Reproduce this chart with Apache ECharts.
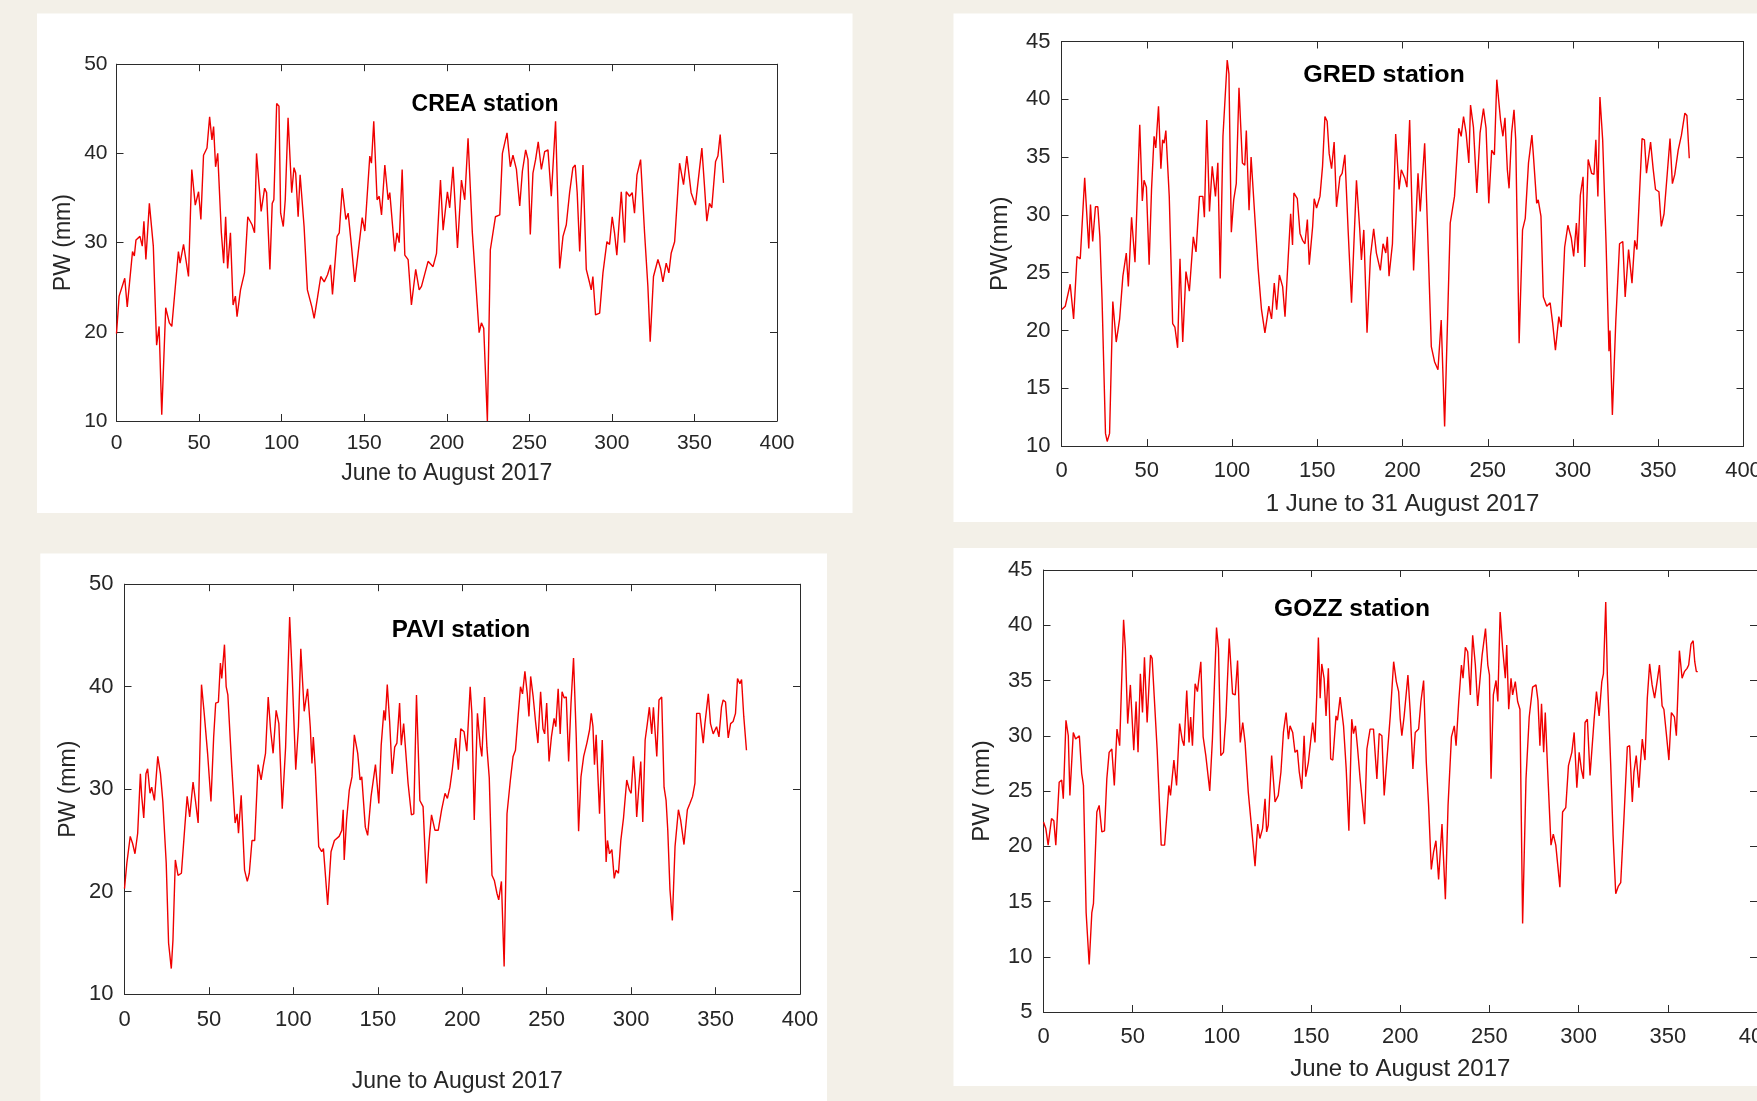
<!DOCTYPE html>
<html>
<head>
<meta charset="utf-8">
<script src="https://cdn.jsdelivr.net/npm/echarts@6/dist/echarts.min.js"></script>
<style>
html,body{margin:0;padding:0;background:#f3f0e8;overflow:hidden;}
#c{width:1757px;height:1101px;}
</style>
</head>
<body>
<div id="c"></div>
<script>
// ---- data: [day index, PW (mm)] ----
const creaPW = [[0,19.8],[1.6,24],[5,26],[6.5,22.8],[9.7,29],[10.8,28.5],[11.8,30.3],[14.2,30.7],[15.6,29.6],[16.6,32.4],[17.8,28.1],[19.9,34.4],[22.3,29.6],[24.3,18.5],[25.8,20.6],[27.4,10.7],[29.8,22.7],[32,21],[33.5,20.6],[37.5,29],[38.5,27.7],[40.6,29.8],[43.6,26.2],[45.6,38.2],[47.7,34.2],[49.7,35.7],[51.1,32.6],[52.7,39.8],[54.8,40.6],[56.4,44.1],[57.8,41.5],[58.8,43],[60,38.5],[61.3,40],[63.5,31.1],[64.9,27.7],[66.1,32.9],[67.3,27.1],[69,31.1],[70.6,23],[72,24],[73,21.7],[75.1,24.7],[77.5,26.6],[79.5,32.9],[82.1,32],[83.6,31.1],[84.8,40],[87.6,33.5],[89.7,36.1],[90.9,35.6],[92.9,27],[94.3,34.4],[95.3,34.8],[97,45.6],[98.4,45.3],[99.4,33.3],[101,31.8],[102.2,34.8],[103.9,44],[106.1,35.6],[107.5,38.4],[108.5,37.8],[110,32.9],[111.2,37.6],[113.6,31.8],[115.6,24.7],[118.3,22.8],[119.7,21.5],[121.7,23.8],[123.7,26.2],[125.8,25.6],[127.8,26.4],[129.6,27.5],[130.8,24.2],[133.6,30.7],[134.9,31.1],[136.7,36.1],[138.9,32.6],[140.3,33.3],[142.3,29.6],[144.3,25.6],[146.3,28.8],[148.8,32.8],[150.4,31.3],[153.4,39.7],[154.4,38.9],[155.8,43.6],[157.8,34.8],[159.1,35.2],[160.5,33.1],[162.5,38.7],[164.5,34.8],[165.5,35.6],[168.5,29],[169.9,31.1],[171.2,30],[173,38.2],[174.6,28.6],[176.6,28.1],[178.6,23],[181.2,27],[183.3,24.7],[184.7,25.1],[188.7,27.9],[191.7,27.3],[193.8,28.8],[196.2,37],[197.8,31.4],[200.4,35.7],[201.8,33.9],[203.8,38.5],[206.5,29.4],[208.9,37],[210.9,34.8],[212.9,41.7],[215.5,31.1],[218,24.3],[219.6,19.9],[221,21],[222.4,20.4],[224.6,10],[226.4,29.2],[229.5,32.9],[232.1,33.1],[233.7,40],[236.5,42.3],[238.5,38.5],[240.1,39.8],[242.2,38.2],[244.2,34.1],[245.8,38],[247.8,40.4],[249.2,39.3],[250.6,30.9],[252.2,37.8],[253.8,39.3],[255.4,41.3],[257.3,38.2],[259.3,40.2],[261.3,40.4],[263.3,35.2],[265.9,43.6],[268.4,27.1],[270.4,30.7],[272.4,32],[274.4,35.6],[276.4,38.4],[277.8,38.7],[279,35.6],[280.5,29],[282.5,38.7],[284.5,27],[286.5,25.5],[287.5,24.7],[288.5,26.2],[290.1,21.9],[292.6,22.1],[294.6,26.6],[297,30.1],[298.6,29.8],[300.2,32.9],[301.6,31.1],[303,28.6],[305.7,35.7],[307.7,30],[308.7,35.7],[310.7,35.2],[312.3,35.6],[313.7,33.3],[315.2,37.6],[317.4,39.3],[319.8,31.1],[321.8,25.1],[323.2,18.9],[325.2,26.2],[327.9,28.1],[329.5,27.1],[330.9,25.6],[332.9,27.7],[334.5,26.6],[335.9,28.8],[338,30.1],[341,38.9],[343.4,36.5],[345.4,39.7],[348,35.6],[350.6,34.2],[354.5,40.6],[356.1,36.3],[357.5,32.4],[359.1,34.4],[360.5,33.9],[362.8,39.1],[364.2,39.7],[365.6,42.1],[367.6,36.7]];

const gredPW = [[0,21.8],[2.2,22.1],[5.1,24],[7.1,21],[9.1,26.4],[11,26.2],[13.6,33.2],[16,27.1],[17,30.9],[18.3,27.7],[19.9,30.7],[21.3,30.7],[22.5,28.1],[23.8,22.6],[25.8,11.1],[26.8,10.4],[28.2,11.1],[30.1,22.5],[32.1,19],[34.1,21],[36,24.7],[38,26.7],[39.2,23.8],[41.1,29.8],[43.1,25.9],[45.9,37.8],[47.4,31.2],[48.4,33],[49.8,32.4],[51.4,25.7],[52.8,32.2],[54.3,36.8],[55.3,35.8],[56.9,39.4],[58.3,34],[59.3,36.5],[60.2,36.2],[61.2,37.3],[63.2,31.6],[65.2,20.6],[66.5,20.3],[68.1,18.5],[69.5,26.2],[71.1,19],[73,25.1],[75,23.4],[77.3,28.1],[78.9,26.8],[80.9,31.6],[82.9,31.6],[83.8,29.8],[85.2,38.2],[86.8,30.3],[88.4,34.2],[90.3,31.6],[91.7,34.5],[93.1,24.5],[94.7,36.8],[97.2,43.4],[98.2,42.2],[99.6,28.5],[101,31.3],[102.5,32.7],[104.1,41],[106.1,34.5],[107.5,34.3],[108.4,37.3],[110,30.4],[111.2,35],[113.4,29.8],[115.3,25.4],[117.3,21.8],[119.3,19.8],[121.6,22.1],[123.2,21],[124.8,24.1],[126.2,21.8],[127.8,24.8],[129.7,23.8],[131.1,21.2],[133,26.4],[134.4,30.1],[135.5,27.4],[136.3,31.9],[138.3,31.4],[139.9,28.4],[141.4,27.8],[142.8,27.5],[144.2,29.6],[145.3,25.7],[147.3,29],[148.2,31.4],[149.6,30.6],[151.6,31.6],[153.1,34.2],[154.5,38.5],[155.8,38.1],[157,35.3],[158.4,34],[159.9,36.3],[161.3,30.7],[163.3,33.3],[164.6,33.6],[166.2,35.2],[168.1,28.7],[170.1,22.4],[173,33],[174.9,28.8],[175.9,26.1],[177.3,28.7],[179.2,19.8],[181.2,26.4],[183.1,28.8],[184.7,26.7],[187,25.2],[188.6,27.5],[190.2,26.7],[191.1,28.1],[192.1,24.7],[194.1,27.5],[196,37],[198,32.2],[199.3,33.9],[201.3,33.2],[202.6,32.4],[204.2,38.2],[206.5,25.2],[209.1,33.6],[210.4,30.3],[213,36.2],[214.9,27.8],[216.9,18.6],[218.8,17.3],[220.8,16.6],[222.7,20.9],[224.7,11.7],[228,29.3],[230.5,31.6],[233,37.5],[234.4,36.8],[235.8,38.5],[237.3,37.1],[238.9,34.5],[239.9,39.5],[241.6,37.6],[243.6,31.9],[245.5,37.1],[247.5,39.2],[249,37.5],[250.6,31],[252.3,35.6],[253.9,35.2],[255.3,41.7],[257.5,38.2],[258.9,36.8],[260.1,38.4],[261.5,33.9],[262.5,32.3],[264,37.1],[265.4,39.1],[266.4,36.5],[268.4,18.9],[270.4,28.7],[272,29.7],[273.9,34.5],[275.9,36.9],[276.7,35.3],[278.7,31],[279.6,31.3],[281.2,29.9],[282.6,22.9],[284.6,22.1],[286.6,22.4],[288.1,20.6],[289.7,18.3],[291.7,21.2],[293.1,20.3],[295.1,27.2],[297,29.1],[299,28],[300.4,26.4],[302,29.3],[302.9,26.7],[304.3,31.7],[305.9,33.3],[306.9,25.5],[308.9,34.8],[310.9,33.6],[312.3,33.5],[313.4,36.5],[314.6,31.6],[315.8,40.2],[317.4,36.5],[319.4,27.5],[321.1,18.2],[321.7,20],[323.1,12.7],[325.1,20.8],[327.3,27.5],[329.2,27.7],[330.6,22.9],[332.6,27],[334.6,24.1],[336.2,27.8],[337.5,27],[340.5,36.6],[341.9,36.5],[343.1,33.6],[345.5,36.3],[347,34],[348.4,32.2],[350.4,32],[351.8,29],[353.4,30.1],[355.3,33.6],[356.9,36.6],[358.3,32.7],[359.7,33.5],[361.7,35.6],[363.6,36.9],[365.6,38.8],[366.8,38.6],[368.2,34.9]];

const paviPW = [[0,20.3],[1.4,22.8],[3.4,25.4],[4.8,24.7],[6.2,23.7],[7.8,25.7],[9.4,31.5],[10.2,29.3],[11.4,27.2],[12.7,31.5],[13.7,32],[15.1,29.6],[16.1,30.2],[17.7,28.9],[19.7,33.2],[21.3,31.5],[22.7,28.8],[24.7,22.8],[26.1,15],[27.7,12.5],[28.7,15.3],[30.1,23.1],[31.7,21.6],[33.7,21.8],[35.7,26.3],[37.1,29.3],[38.6,27.3],[40.6,30.7],[42,28.9],[43.6,26.7],[45.6,40.2],[47.2,37.4],[49.2,33.5],[51.2,28.8],[52.8,35.1],[54,38.4],[55.6,38.5],[56.8,42.3],[57.6,40.8],[59.2,44.1],[60.2,40],[61.2,39.2],[63.5,32.2],[65.5,26.7],[66.7,27.6],[67.5,25.7],[69.1,29.4],[71.1,22.1],[72.7,21],[73.9,21.8],[75.5,25],[77.1,25],[79.1,32.4],[80.9,30.9],[82.1,32.2],[83.5,33.5],[85.1,39],[86.5,35.8],[88,33.5],[89.8,37.7],[91.4,36.4],[93.4,28.1],[95.4,34.1],[97.8,46.8],[99.4,40.7],[101.4,31.9],[103,36.1],[104.4,43.7],[106.4,37.6],[108.4,39.8],[110,36.1],[111,32.5],[111.8,35.1],[113,32],[115,24.4],[116.8,23.9],[117.8,24.2],[120.3,18.7],[122.3,23.9],[124.3,25],[127.1,25.4],[128.7,26],[129.5,28],[130.1,23.1],[131.5,27],[133.1,29.9],[134.7,31.2],[136.1,35.3],[138.1,33.5],[139.5,30.9],[140.5,31.2],[142.6,26.3],[144,25.5],[146,29.3],[148.6,32.4],[150.6,28.6],[152,34.3],[153.6,37.7],[154.4,36.7],[155.6,40.2],[157,36.6],[158.5,31.5],[160,34.1],[161.3,34.5],[162.9,38.4],[163.9,34.3],[165.3,36.4],[167.9,30.6],[169.9,27.5],[171.3,27.6],[172.9,39.2],[174.9,28.9],[176.8,28.3],[178.8,20.8],[180.4,25],[181.8,27.5],[183.8,26],[185.8,26],[187.8,28],[189.8,29.6],[191.2,29.1],[192.7,30.2],[194.1,31.9],[196.1,35],[197.7,31.9],[199.1,35.9],[201.1,35.6],[202.7,33.7],[204.7,40],[205.7,37.4],[207.1,27],[209,37.4],[210.6,34.3],[211.6,33.2],[213.2,39],[214.6,34.1],[216,31.1],[217.6,21.6],[219,21.1],[220.6,19.8],[221.6,19.2],[223.2,21],[224.8,12.7],[226.5,27.6],[228.5,30.9],[230.1,33.2],[231.5,33.8],[233.1,37.2],[234.5,40],[235.7,39.3],[237.1,41.5],[238.5,39.3],[239.5,37.1],[240.5,41],[242,39],[243.4,36.6],[244.8,34.5],[246.4,39.5],[247.8,35.9],[248.8,35.4],[250,38.4],[251.4,32.7],[252.8,35.1],[254.4,36.9],[255.4,36.1],[256.8,39.8],[258,35.4],[259.1,39.5],[260.4,38.9],[261.6,39],[263,32.7],[264.4,38.4],[265.9,42.8],[267.5,35.1],[268.9,25.9],[270.3,31.2],[271.9,33.2],[273.8,34.5],[275.4,35.8],[276.4,37.4],[277.4,36.1],[278.3,32.4],[279.3,35.3],[280.3,31.4],[281.3,27.6],[282.1,27.6],[282.9,34.8],[284.1,28.9],[285.2,22.9],[286,25],[287.2,23.7],[288.6,24.1],[290,21.3],[291.1,22.1],[292.5,21.8],[293.9,25],[295.5,27.2],[297.4,30.9],[299,29.9],[300,29.6],[301.4,33.2],[302.4,30.9],[303.3,27.3],[304.3,29.6],[305.7,32.7],[306.9,26.8],[308.3,34.8],[309.6,36.4],[310.8,38],[312.2,35.4],[313.2,38],[314.2,38],[315.2,33.2],[316.5,38.7],[318.1,39],[319.5,30.2],[320.7,28.9],[321.7,26],[323,20.2],[324.4,17.2],[326,24.4],[328,28],[329.3,27],[331.3,24.6],[333.3,28],[334.8,28.6],[336.4,29.3],[337.8,30.6],[338.8,37.4],[340.7,37.4],[342.7,34.5],[343.7,36.4],[345.7,39.3],[347,36.4],[348.6,35.4],[350.6,36.1],[352,35.1],[353.5,38],[354.5,38.7],[355.9,38.5],[357.5,35],[358.9,36.4],[360.4,36.6],[361.8,37.4],[363,40.8],[364.4,40.3],[365.4,40.7],[366.7,37.1],[368.3,33.8]];

const gozzPW = [[0,22.2],[1.3,21.6],[2.6,20.1],[4.5,22.5],[5.8,22.3],[6.9,20.1],[8.8,25.8],[10.2,26],[11.1,24.3],[12.6,31.4],[13.9,30],[14.8,24.6],[16.7,30.3],[18,29.7],[20.1,30],[21.4,26.6],[22.4,25.5],[23.9,14],[25.6,9.3],[27.1,14],[28,14.8],[29.9,23.1],[31.2,23.7],[32.7,21.3],[34.2,21.4],[35.5,26.1],[36.8,28.5],[38.3,28.8],[39.7,25.5],[41.2,30.6],[42.7,29.1],[44.9,40.5],[45.9,37.9],[47.2,31.1],[48.7,34.6],[50.6,28.7],[51.9,33.1],[53,28.5],[54.3,35.6],[55.5,32.1],[56.6,37.1],[58.1,31.2],[60,37.3],[60.9,37],[63.7,28.8],[66,20.1],[67.9,20.1],[69.4,23.4],[70.3,25.5],[71.2,24.6],[73.1,27.8],[74.6,25.5],[76.3,31.1],[77.8,29.6],[78.8,29.1],[80.3,34.1],[81.6,29.4],[82.5,31.7],[83.5,29.1],[85,34.7],[86.3,34],[88.2,36.7],[89.5,29.9],[91,28.2],[93.2,25],[94.7,29.7],[97,39.8],[98.1,37.9],[99.4,28.2],[100.9,28.5],[102.3,31.8],[104.1,38.8],[106,33.8],[107.5,33.7],[108.8,36.8],[110.3,29.4],[111.7,31.2],[113,29.4],[114.8,24.9],[116.7,21.6],[118.6,18.2],[120.1,22],[121.3,20.7],[122.8,21.6],[124.2,24.3],[125.1,21.3],[126,21.9],[127.9,28.2],[129.8,24],[131.6,24.6],[133.1,26.7],[134.5,30.3],[136,32.1],[137.3,29.7],[138.2,30.9],[139.7,30.3],[141,28.5],[142.3,28.7],[143.4,26.7],[144.8,25.2],[146.1,30],[147,26.3],[148.5,27.6],[150.9,31.2],[152.2,29.4],[153.2,33.7],[154.1,38.9],[155.1,33.4],[156,36.5],[157.3,35.2],[158.4,31.8],[159.7,36.1],[161,27.9],[162.2,27.8],[164,31.8],[164.8,31.4],[166.3,33.5],[168.2,30.9],[169.7,27],[171.2,21.4],[172.8,31.5],[173.8,30.2],[174.9,30.9],[176,29],[177.5,26.1],[180,22],[181.3,28.8],[183.1,30.6],[185,30.6],[186.9,26.1],[188.2,30.2],[189.7,30],[191,24.6],[192.5,27.8],[194.4,31.8],[196.3,36.7],[197.8,34.9],[199.1,34],[200,31.5],[200.9,30],[202.2,31.8],[203.2,31.7],[204.3,35.5],[205.6,32.1],[207.1,27],[208.4,30.3],[210.3,30.6],[211.6,33.1],[213.1,35],[214.6,27.6],[215.9,23.7],[217.4,17.9],[218.7,19.5],[220,20.5],[221.5,17],[223.4,22],[225.3,15.2],[226.8,23.7],[228.7,29.9],[230.3,30.9],[231.3,29.1],[232.8,33.1],[234.3,36.4],[235.2,35.2],[236.5,38],[237.8,37.6],[239.3,33.7],[240.6,39.1],[242.1,36.4],[243.4,32.7],[245.9,37.3],[247.8,39.7],[249.1,36.4],[250,35.5],[250.9,26.1],[252.2,33.7],[253.7,35],[254.7,33.1],[256,41.2],[257.4,37.9],[258.9,35.2],[259.7,38.2],[260.8,32.4],[262.1,35.2],[263,33.7],[264.5,34.9],[265.8,33.1],[267.1,32.4],[268.6,13],[270.5,26.1],[272.3,31.7],[274.2,34.4],[276.1,34.6],[277.2,33.2],[278.3,29.1],[279.2,32.9],[280.4,28.5],[281.3,32.1],[282.6,27],[284.5,20.1],[285.8,21.1],[287.2,20.1],[289.5,16.3],[291,23.1],[292.8,23.5],[294.3,27.3],[296.2,28.5],[297.5,30.3],[299,25.3],[300.3,28.5],[301.6,26.9],[302.7,26.1],[303.6,31.2],[304.9,31.5],[306.4,26.4],[307.4,26.4],[308.7,31.5],[310,34],[311.5,31.8],[313,34.9],[313.9,35.6],[315.2,42.1],[316.1,35.5],[318,27.3],[319.3,21],[320.8,15.7],[322.3,16.4],[323.6,16.7],[325.4,22.5],[327.3,29],[328.6,29.1],[330.1,24],[331,26.7],[332.3,28.2],[333.8,25.3],[334.7,27.6],[335.7,29.7],[337.2,27.8],[338.5,33.4],[339.8,36.5],[341.2,34.6],[342.6,33.4],[344,34.9],[345.3,36.4],[346.8,32.7],[347.8,32.4],[349.1,30.3],[350.6,27.8],[352,32.1],[353.7,31.7],[354.8,30],[356.5,37.7],[358,35.2],[359.3,35.8],[360.8,36.1],[361.7,36.4],[363,38.3],[364.2,38.6],[365.1,36.7],[366,35.8],[366.8,35.8]];

// axis ranges / tick steps
const xRange = [0, 400, 50];
const creaY = [10, 50, 10];
const gredY = [10, 45, 5];
const paviY = [10, 50, 10];
const gozzY = [5, 45, 5];

const titles = ['CREA station', 'GRED station', 'PAVI station', 'GOZZ station'];
const xNames = ['June to August 2017', '1 June to 31 August 2017', 'June to August 2017', 'June to August 2017'];
const yNames = ['PW (mm)', 'PW(mm)', 'PW (mm)', 'PW (mm)'];

// ---- layout ----
const FONT = '"Liberation Sans", Arial, Helvetica, sans-serif';
const AX = '#2b2b2b';
const panels = [
  {box:[37,13.5,815.5,499.5], grid:{left:116.5, top:64.2, width:660.5, height:356.8}, y:creaY, data:creaPW,
   tick:21, name:23, xGap:41, yGap:41, title:[485,104.5], tScale:1.0, xMargin:12, yMargin:9},
  {box:[953.5,13.5,803.5,508.5], grid:{left:1061.5, top:41.5, width:682, height:404.6}, y:gredY, data:gredPW,
   tick:22, name:24, xGap:46, yGap:49, title:[1384,76], tScale:1.09, xMargin:14, yMargin:11},
  {box:[40.3,553.5,786.7,547.5], grid:{left:124.5, top:584.2, width:675.5, height:410}, y:paviY, data:paviPW,
   tick:22, name:23, xGap:76, yGap:44, title:[461,631], tScale:1.05, xMargin:15, yMargin:11, xPad:[0,10,0,0]},
  {box:[953.5,548,803.5,538], grid:{left:1043.5, top:570, width:713.5, height:442}, y:gozzY, data:gozzPW,
   tick:22, name:24, xGap:45, yGap:49, title:[1352,609.5], tScale:1.07, xMargin:14, yMargin:11}
];

const grid = [], xAxis = [], yAxis = [], series = [], graphic = [];
panels.forEach((p, i) => {
  grid.push(Object.assign({containLabel:false, outerBoundsMode:'none', show:false}, p.grid));
  const line = {show:true, onZero:false, lineStyle:{color:AX, width:1}};
  const tick = {show:true, inside:true, length:7, lineStyle:{color:AX, width:1}};
  xAxis.push({type:'value', gridIndex:i, position:'bottom', min:xRange[0], max:xRange[1], interval:xRange[2],
    axisLine:line, axisTick:tick, splitLine:{show:false},
    axisLabel:{color:'#262626', fontFamily:FONT, fontSize:p.tick, margin:p.xMargin, hideOverlap:false},
    name:xNames[i], nameLocation:'middle', nameGap:p.xGap,
    nameTextStyle:{color:'#262626', fontFamily:FONT, fontSize:p.name, padding:p.xPad || 0}});
  xAxis.push({type:'value', gridIndex:i, position:'top', min:xRange[0], max:xRange[1], interval:xRange[2],
    axisLine:line, axisTick:tick, splitLine:{show:false}, axisLabel:{show:false}});
  yAxis.push({type:'value', gridIndex:i, position:'left', min:p.y[0], max:p.y[1], interval:p.y[2],
    axisLine:line, axisTick:tick, splitLine:{show:false},
    axisLabel:{color:'#262626', fontFamily:FONT, fontSize:p.tick, margin:p.yMargin, hideOverlap:false},
    name:yNames[i], nameLocation:'middle', nameGap:p.yGap, nameRotate:90,
    nameTextStyle:{color:'#262626', fontFamily:FONT, fontSize:p.name}});
  yAxis.push({type:'value', gridIndex:i, position:'right', min:p.y[0], max:p.y[1], interval:p.y[2],
    axisLine:line, axisTick:tick, splitLine:{show:false}, axisLabel:{show:false}});
  series.push({type:'line', xAxisIndex:2*i, yAxisIndex:2*i, data:p.data, showSymbol:false,
    lineStyle:{color:'#f00000', width:1.4}, z:3, silent:true});
  graphic.push({type:'rect', shape:{x:p.box[0], y:p.box[1], width:p.box[2], height:p.box[3]},
    style:{fill:'#ffffff'}, z:-10, silent:true});
  graphic.push({type:'text', x:p.title[0], y:p.title[1], scaleX:p.tScale, z:20, silent:true,
    style:{text:titles[i], fill:'#000', font:'bold 23px ' + FONT, align:'center', verticalAlign:'middle'}});
});

const chart = echarts.init(document.getElementById('c'), null, {renderer:'canvas'});
chart.setOption({
  backgroundColor:'#f3f0e8',
  animation:false,
  grid, xAxis, yAxis, series, graphic
});
</script>
</body>
</html>
